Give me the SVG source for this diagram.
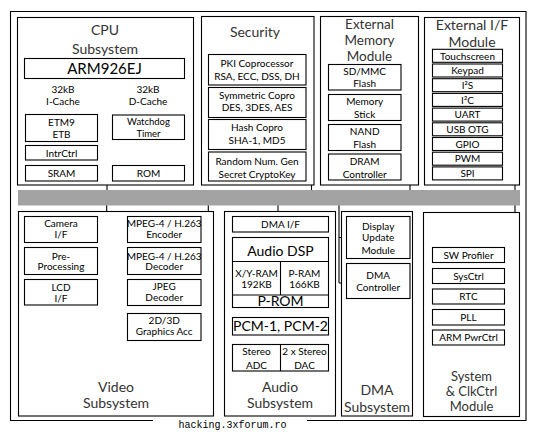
<svg xmlns="http://www.w3.org/2000/svg" width="538" height="432" viewBox="0 0 538 432">
<style>
.b{fill:#fff;stroke:#000;stroke-width:1.1}
.c{fill:none;stroke:#000;stroke-width:1.1}
text{font-family:Lato,"Open Sans","DejaVu Sans",sans-serif;text-anchor:middle;fill:#000}
.t{font-size:14px;fill:#333}
.l{font-size:10px}
.m{font-size:14px}
.w{font-family:"Liberation Mono","DejaVu Sans Mono",monospace;font-size:10px}
</style>
<rect width="538" height="432" fill="#fff"/>
<path class="c" d="M153,420.5H10.5V11.5H526V420.5H307"/>
<text class="w" x="232.5" y="428">hacking.3xforum.ro</text>

<g id="connectors">
<path class="c" d="M107,78.5V190M105,127.5H112.5M97.5,173.5H112.5"/>
<path class="c" d="M311.5,70V190M306,70H311.5M306,102.5H311.5M306,134.5H311.5M306,166.5H311.5"/>
<path class="c" d="M410,76V190M401,76H410M401,107.5H410M401,137.5H410M401,167H410"/>
<path class="c" d="M515,55.8V337.5M502.5,55.8H515M502.5,70.5H515M502.5,85.2H515M502.5,99.9H515M502.5,114.6H515M502.5,129.3H515M502.5,144H515M502.5,158.7H515M502.5,173.4H515"/>
<path class="c" d="M504.5,255H515M504.5,276H515M504.5,296.5H515M504.5,317H515M504.5,337.5H515"/>
<path class="c" d="M106.7,205V293.5M97.5,229.5H106.7M97.5,261H106.7M97.5,293.5H106.7"/>
<path class="c" d="M208.3,205V327M201,229.5H208.3M201,261H208.3M201,292.5H208.3M201,327H208.3"/>
<path class="c" d="M278,205V216.5"/>
<path class="c" d="M339,205V283M339,237.5H346.5M339,283H346.5"/>
</g>

<rect id="bus" x="18" y="190" width="502" height="15.5" fill="#a3a3a3"/>

<g id="cpu">
<rect class="b" x="17.5" y="17.5" width="176" height="167.5"/>
<text class="t" x="105" y="35">CPU</text>
<text class="t" x="105" y="54">Subsystem</text>
<rect class="b" x="24.5" y="58.5" width="160" height="20"/>
<text class="m" x="104.5" y="73.5" style="font-size:15px">ARM926EJ</text>
<text class="l" x="63" y="93">32kB</text>
<text class="l" x="63" y="105">I-Cache</text>
<text class="l" x="148" y="93">32kB</text>
<text class="l" x="148" y="105">D-Cache</text>
<rect class="b" x="25.5" y="114.5" width="72" height="27"/>
<text class="l" x="61.5" y="125.5">ETM9</text>
<text class="l" x="61.5" y="138">ETB</text>
<rect class="b" x="112.5" y="115" width="72" height="24.5"/>
<text class="l" x="148.5" y="125.2" style="font-size:9.5px">Watchdog</text>
<text class="l" x="148.5" y="137" style="font-size:9.5px">Timer</text>
<rect class="b" x="25.5" y="145.5" width="72" height="14.5"/>
<text class="l" x="61.5" y="156.5">IntrCtrl</text>
<rect class="b" x="25.5" y="165.5" width="72" height="15.5"/>
<text class="l" x="61.5" y="177">SRAM</text>
<rect class="b" x="112.5" y="165.5" width="72" height="15.5"/>
<text class="l" x="148.5" y="177">ROM</text>
</g>

<g id="security">
<rect class="b" x="201.5" y="16.5" width="112.5" height="168.5"/>
<text class="t" x="255" y="36.5">Security</text>
<rect class="b" x="208.5" y="54.5" width="97.5" height="30.5"/>
<text class="l" x="257" y="67">PKI Coprocessor</text>
<text class="l" x="257" y="80.4">RSA, ECC, DSS, DH</text>
<rect class="b" x="208.5" y="87.5" width="97.5" height="30"/>
<text class="l" x="257" y="98.7">Symmetric Copro</text>
<text class="l" x="257" y="111.4">DES, 3DES, AES</text>
<rect class="b" x="208.5" y="119.5" width="97.5" height="30"/>
<text class="l" x="257" y="131.4">Hash Copro</text>
<text class="l" x="257" y="143.7">SHA-1, MD5</text>
<rect class="b" x="208.5" y="152" width="97.5" height="29"/>
<text class="l" x="257" y="164.7">Random Num. Gen</text>
<text class="l" x="257" y="177.7">Secret CryptoKey</text>
</g>

<g id="memory">
<rect class="b" x="320.5" y="16.5" width="98" height="168.5"/>
<text class="t" x="369.5" y="29" style="font-size:13.5px">External</text>
<text class="t" x="369.5" y="45" style="font-size:13.5px">Memory</text>
<text class="t" x="369.5" y="61" style="font-size:13.5px">Module</text>
<rect class="b" x="328.5" y="64.5" width="72.5" height="25.5"/>
<text class="l" x="364.7" y="74.7">SD/MMC</text>
<text class="l" x="364.7" y="87">Flash</text>
<rect class="b" x="328.5" y="94.5" width="72.5" height="26"/>
<text class="l" x="364.7" y="105.3">Memory</text>
<text class="l" x="364.7" y="118">Stick</text>
<rect class="b" x="328.5" y="124.5" width="72.5" height="26"/>
<text class="l" x="364.7" y="135.4">NAND</text>
<text class="l" x="364.7" y="148">Flash</text>
<rect class="b" x="328.5" y="154" width="72.5" height="26"/>
<text class="l" x="364.7" y="164.7">DRAM</text>
<text class="l" x="364.7" y="177.7">Controller</text>
</g>

<g id="extif">
<rect class="b" x="424.5" y="17.5" width="95" height="167.5"/>
<text class="t" x="472" y="30">External I/F</text>
<text class="t" x="472" y="46.5">Module</text>
<rect class="b" x="432.5" y="49.3" width="70" height="13"/>
<text class="l" x="467.5" y="59.5">Touchscreen</text>
<rect class="b" x="432.5" y="64" width="70" height="13"/>
<text class="l" x="467.5" y="74.2">Keypad</text>
<rect class="b" x="432.5" y="78.7" width="70" height="13"/>
<text class="l" x="467.5" y="88.9">I²S</text>
<rect class="b" x="432.5" y="93.4" width="70" height="13"/>
<text class="l" x="467.5" y="103.6">I²C</text>
<rect class="b" x="432.5" y="108.1" width="70" height="13"/>
<text class="l" x="467.5" y="118.3">UART</text>
<rect class="b" x="432.5" y="122.8" width="70" height="13"/>
<text class="l" x="467.5" y="133">USB OTG</text>
<rect class="b" x="432.5" y="137.5" width="70" height="13"/>
<text class="l" x="467.5" y="147.7">GPIO</text>
<rect class="b" x="432.5" y="152.2" width="70" height="13"/>
<text class="l" x="467.5" y="162.4">PWM</text>
<rect class="b" x="432.5" y="166.9" width="70" height="13"/>
<text class="l" x="467.5" y="177.1">SPI</text>
</g>

<g id="video">
<rect class="b" x="18.5" y="211.5" width="195" height="204.5"/>
<rect class="b" x="24.5" y="216.5" width="73" height="26"/>
<text class="l" x="61" y="227">Camera</text>
<text class="l" x="61" y="238">I/F</text>
<rect class="b" x="24.5" y="247.5" width="73" height="27"/>
<text class="l" x="61" y="259.7">Pre-</text>
<text class="l" x="61" y="270.4">Processing</text>
<rect class="b" x="24.5" y="279.5" width="73" height="25.5"/>
<text class="l" x="61" y="291.4">LCD</text>
<text class="l" x="61" y="302">I/F</text>
<rect class="b" x="127.5" y="216.5" width="73.5" height="26"/>
<text class="l" x="164.2" y="227">MPEG-4 / H.263</text>
<text class="l" x="164.2" y="238">Encoder</text>
<rect class="b" x="127.5" y="247.5" width="73.5" height="27"/>
<text class="l" x="164.2" y="259.7">MPEG-4 / H.263</text>
<text class="l" x="164.2" y="270.4">Decoder</text>
<rect class="b" x="127.5" y="279.5" width="73.5" height="26"/>
<text class="l" x="164.2" y="290.4">JPEG</text>
<text class="l" x="164.2" y="301.4">Decoder</text>
<rect class="b" x="127.5" y="313.5" width="73.5" height="27"/>
<text class="l" x="164.2" y="323.7">2D/3D</text>
<text class="l" x="164.2" y="334.7">Graphics Acc</text>
<text class="t" x="116" y="391.5">Video</text>
<text class="t" x="116" y="408">Subsystem</text>
</g>

<g id="audio">
<rect class="b" x="224.5" y="211.5" width="111" height="204.5"/>
<rect class="b" x="232.5" y="216.5" width="96" height="15.5"/>
<text class="l" x="280.5" y="228">DMA I/F</text>
<rect class="b" x="232.5" y="237.5" width="96" height="70"/>
<path class="c" d="M232.5,261.5H328.5M280.5,261.5V295M232.5,295H328.5"/>
<text class="m" x="280.5" y="256">Audio DSP</text>
<text class="l" x="256.5" y="277">X/Y-RAM</text>
<text class="l" x="256.5" y="287.7">192KB</text>
<text class="l" x="304.5" y="277">P-RAM</text>
<text class="l" x="304.5" y="287.7">166KB</text>
<text class="m" x="280.5" y="306.3">P-ROM</text>
<rect class="b" x="232.5" y="317.5" width="96" height="17.5"/>
<text class="m" x="280.5" y="331.3">PCM-1, PCM-2</text>
<rect class="b" x="232.5" y="344.5" width="96" height="26.5"/>
<path class="c" d="M280.5,344.5V371"/>
<text class="l" x="256.5" y="355.4">Stereo</text>
<text class="l" x="256.5" y="368.7">ADC</text>
<text class="l" x="304.5" y="355.4">2 x Stereo</text>
<text class="l" x="304.5" y="368.7">DAC</text>
<text class="t" x="280" y="391.5">Audio</text>
<text class="t" x="280" y="408">Subsystem</text>
</g>

<g id="dma">
<rect class="b" x="341.5" y="211.5" width="71" height="204.5"/>
<rect class="b" x="346.5" y="216.5" width="63.5" height="42"/>
<text class="l" x="378.2" y="230.4">Display</text>
<text class="l" x="378.2" y="241.4">Update</text>
<text class="l" x="378.2" y="253.7">Module</text>
<rect class="b" x="346.5" y="263.5" width="63.5" height="35"/>
<text class="l" x="378.2" y="278.7">DMA</text>
<text class="l" x="378.2" y="291.4">Controller</text>
<text class="t" x="377" y="395">DMA</text>
<text class="t" x="377" y="411.5">Subsystem</text>
</g>

<g id="system">
<rect class="b" x="423.5" y="212.5" width="96" height="204"/>
<rect class="b" x="432.5" y="247.5" width="72" height="15"/>
<text class="l" x="468.5" y="258.7">SW Profiler</text>
<rect class="b" x="432.5" y="268.5" width="72" height="15"/>
<text class="l" x="468.5" y="279.7">SysCtrl</text>
<rect class="b" x="432.5" y="289" width="72" height="15"/>
<text class="l" x="468.5" y="300.2">RTC</text>
<rect class="b" x="432.5" y="309.5" width="72" height="15.5"/>
<text class="l" x="468.5" y="320.9">PLL</text>
<rect class="b" x="432.5" y="330" width="72" height="15"/>
<text class="l" x="468.5" y="341.2">ARM PwrCtrl</text>
<text class="t" x="471.5" y="381" style="font-size:13px">System</text>
<text class="t" x="471.5" y="396" style="font-size:13px">&amp; ClkCtrl</text>
<text class="t" x="471.5" y="411" style="font-size:13px">Module</text>
</g>
</svg>
